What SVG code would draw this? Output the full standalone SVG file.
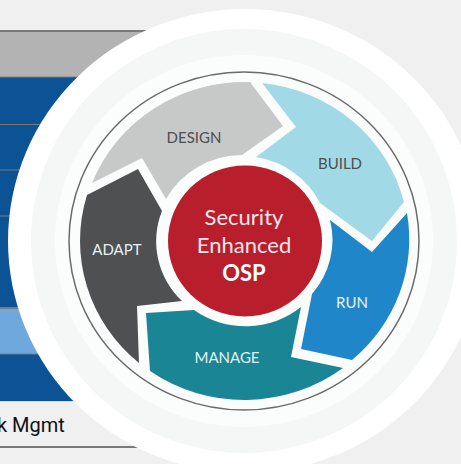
<svg xmlns="http://www.w3.org/2000/svg" width="461" height="464" viewBox="0 0 461 464">
<style>
.lbl{font-family:"Lato","Liberation Sans",sans-serif;font-size:15px;text-anchor:middle}
.d{fill:#4d4e50}.l{fill:#e6f1f4}
.ctr{font-family:"Lato","Liberation Sans",sans-serif;font-size:22px;text-anchor:middle;fill:#f6e6e8}
.rule{fill:#7a7a7a}
</style>
<rect width="461" height="464" fill="#f0f0f0"/>
<g id="table">
<rect x="0" y="31" width="200" height="46" fill="#b3b3b3"/>
<rect x="0" y="77" width="200" height="231" fill="#0b5394"/>
<rect x="0" y="308" width="200" height="46" fill="#6fa8dc"/>
<rect x="0" y="354" width="200" height="47" fill="#0b5394"/>
<rect class="rule" x="0" y="30" width="200" height="2"/>
<rect class="rule" x="0" y="76.500" width="200" height="1"/>
<rect class="rule" x="0" y="124" width="200" height="1"/>
<rect class="rule" x="0" y="169.500" width="200" height="1"/>
<rect class="rule" x="0" y="215.500" width="200" height="1"/>
<rect class="rule" x="0" y="307" width="200" height="2"/>
<rect class="rule" x="0" y="353.500" width="200" height="1"/>
<rect x="0" y="401" width="200" height="1" fill="#d9d9d9"/>
<rect class="rule" x="0" y="446" width="200" height="2"/>
<text x="-3" y="432" font-family="Roboto,'Liberation Sans',sans-serif" font-size="20" fill="#111">k Mgmt</text>
</g>
<g id="rings">
<ellipse cx="245" cy="241" rx="237" ry="232" fill="#ffffff"/>
<ellipse cx="244" cy="241" rx="213" ry="212" fill="#f5f6f6"/>
<ellipse cx="244" cy="241" rx="189" ry="186" fill="#fbfcfc"/>
<ellipse cx="244" cy="241" rx="175" ry="169" fill="none" stroke="#6b6b6b" stroke-width="1.500"/>
</g>
<g id="design"><path d="M92 183A164 159 0 0 1 250 82L283 126L242 155A87 84 0 0 0 166 199L142 158Z" fill="#c7c8c8"/><text class="lbl d" x="194" y="143">DESIGN</text></g>
<g id="build"><path d="M262 83A164 159 0 0 1 404 202L372 241L320 203A87 84 0 0 0 256 157L296 127Z" fill="#a2d9e7"/><text class="lbl d" x="340" y="169">BUILD</text></g>
<g id="run"><path d="M330 220L372 252L407 213A164 159 0 0 1 352 360L301 349L312 294A87 84 0 0 0 330 220Z" fill="#1f87c9"/><text class="lbl l" x="352" y="308">RUN</text></g>
<g id="manage"><path d="M146 313L194 310A87 84 0 0 0 301 307L291 357L343 368A164 159 0 0 1 150 371Z" fill="#1a8595"/><text class="lbl l" x="227" y="363">MANAGE</text></g>
<g id="adapt"><path d="M87 195L138 169L162 211A87 84 0 0 0 182 301L137 306L139 363A164 159 0 0 1 87 195Z" fill="#4f5052"/><text class="lbl l" x="117" y="255">ADAPT</text></g>
<g id="core"><ellipse cx="245" cy="241" rx="77" ry="75.500" fill="#b91e2d"/>
<text class="ctr" x="244" y="225">Security</text>
<text class="ctr" x="244" y="253">Enhanced</text>
<text class="ctr" x="244" y="281" font-weight="700" style="fill:#fff">OSP</text></g>
</svg>
